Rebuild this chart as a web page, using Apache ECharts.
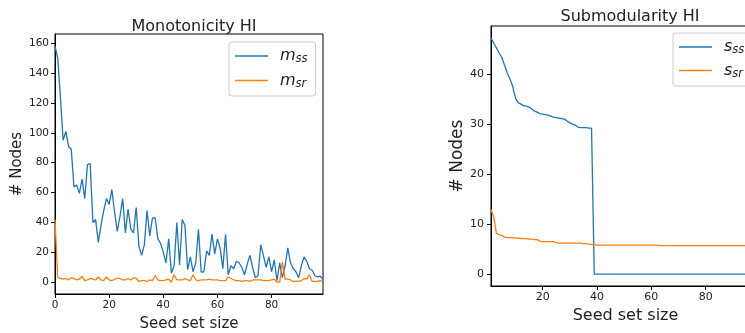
<!DOCTYPE html>
<html>
<head>
<meta charset="utf-8">
<script src="https://cdn.jsdelivr.net/npm/echarts@6/dist/echarts.min.js"></script>
<style>
  html, body { margin: 0; padding: 0; background: #fff; }
  #chart { width: 745px; height: 333px; }
</style>
</head>
<body>
<div id="chart"></div>
<script>
// Monotonicity HI, x = 0..99
const mSS = [158, 150, 124, 95, 101, 91, 89, 64, 65, 59.5,
  69, 56, 78.7, 79.5, 40, 42, 26.7, 38, 48, 56,
  52, 62, 47, 34, 44, 56, 33, 49, 35.5, 33,
  50, 24, 18, 25, 48, 31, 43, 43, 29, 26,
  20, 13, 29, 6, 11, 40, 11.5, 42, 38, 8.5,
  17, 7, 13, 35.5, 6.7, 7, 21, 18, 32, 19,
  29, 23, 9, 32, 5, 11, 9, 14, 13, 10,
  5, 12, 18, 10, 3, 4.5, 25, 18, 10, 17,
  7, 15, 1, 13, 3, 11, 23, 13, 9, 7,
  3, 11, 17, 14, 9, 8, 4.5, 3.5, 4, 2];
const mSR = [42, 3.5, 2.5, 2, 2.5, 1.5, 3, 2.5, 1.5, 2,
  4, 1, 1.5, 2.5, 2, 1.5, 3.5, 1.5, 1, 3.5,
  1.5, 1, 2, 2.5, 2.5, 1.5, 1.5, 2.5, 1.5, 3,
  2.5, 0.5, 1, 1, 0.5, 1.5, 1, 4.5, 1.5, 1,
  1, 1.5, 2, 0, 5, 1.5, 1.5, 1.5, 2.5, 1.5,
  1, 5, 1.5, 1, 1.5, 1.5, 1.5, 2, 1.5, 1.5,
  1.5, 1, 1, 1, 3.5, 2.5, 1.5, 1, 1, 0.5,
  1, 1, 0.5, 1.5, 1.5, 1.5, 1.5, 1, 1, 1,
  1.5, 2, 0, 0, 13.5, 2, 2, 1.5, 0.5, 0.5,
  0.5, 1, 2.5, 2, 5, 0.5, 0.5, 0.5, 1, 0.5];

// Submodularity HI, x = 1..100
const sSS = [47.2, 46.2, 45.2, 44.2, 43.3, 41.7, 40.2, 39.0, 37.5, 35.2,
  34.3, 34.0, 33.7, 33.6, 33.4, 33.0, 32.6, 32.4, 32.1, 32.0,
  31.9, 31.8, 31.6, 31.4, 31.3, 31.2, 31.1, 31.0, 30.6, 30.3,
  30.0, 29.8, 29.4, 29.3, 29.3, 29.3, 29.2, 29.2, 0, 0,
  0, 0, 0, 0, 0, 0, 0, 0, 0, 0,
  0, 0, 0, 0, 0, 0, 0, 0, 0, 0,
  0, 0, 0, 0, 0, 0, 0, 0, 0, 0,
  0, 0, 0, 0, 0, 0, 0, 0, 0, 0,
  0, 0, 0, 0, 0, 0, 0, 0, 0, 0,
  0, 0, 0, 0, 0, 0, 0, 0, 0, 0];
const sSR = [12.9, 11.5, 8.1, 7.9, 7.7, 7.4, 7.3, 7.3, 7.3, 7.2,
  7.2, 7.1, 7.1, 7.1, 7.0, 7.0, 6.9, 6.9, 6.6, 6.5,
  6.5, 6.5, 6.5, 6.5, 6.3, 6.2, 6.2, 6.2, 6.2, 6.2,
  6.2, 6.2, 6.2, 6.2, 6.1, 6.1, 6.0, 5.9, 5.9, 5.8,
  5.8, 5.8, 5.8, 5.8, 5.8, 5.8, 5.8, 5.8, 5.8, 5.8,
  5.8, 5.8, 5.8, 5.8, 5.8, 5.8, 5.8, 5.8, 5.8, 5.8,
  5.8, 5.8, 5.7, 5.7, 5.7, 5.7, 5.7, 5.7, 5.7, 5.7,
  5.7, 5.7, 5.7, 5.7, 5.7, 5.7, 5.7, 5.7, 5.7, 5.7,
  5.7, 5.7, 5.7, 5.7, 5.7, 5.7, 5.7, 5.7, 5.7, 5.7,
  5.7, 5.7, 5.7, 5.7, 5.7, 5.7, 5.7, 5.7, 5.7, 5.7];

const leftTicksX = [0, 20, 40, 60, 80];
const leftTicksY = [0, 20, 40, 60, 80, 100, 120, 140, 160];
const rightTicksX = [20, 40, 60, 80, 100];
const rightTicksY = [0, 10, 20, 30, 40];

const FONT = "DejaVu Sans";
const BLUE = "#1f77b4";
const ORANGE = "#ff7f0e";

const chart = echarts.init(document.getElementById("chart"), null, { renderer: "canvas" });

function axisCommon(ticks, fontSize, margin) {
  return {
    type: "value",
    splitLine: { show: false },
    axisLine: { show: true, onZero: false, lineStyle: { color: "#000", width: 1 } },
    axisTick: { show: true, length: 4, lineStyle: { color: "#000" }, customValues: ticks },
    axisLabel: { customValues: ticks, color: "#222", fontFamily: FONT, fontSize: fontSize, margin: margin },
    nameTextStyle: { color: "#222", fontFamily: FONT },
  };
}

const legendRich = {
  g: { width: 7 },
  i: { fontStyle: "italic", fontFamily: FONT, fontSize: 16, color: "#222" },
  s: { fontStyle: "italic", fontFamily: FONT, fontSize: 11.5, color: "#222", padding: [7, 0, 0, 0] },
};
const legendNames = {
  mss: "{g|}{i|m}{s|ss}", msr: "{g|}{i|m}{s|sr}",
  sss: "{g|}{i|s}{s|ss}", ssr: "{g|}{i|s}{s|sr}",
};

const chartOptions = {
  animation: false,
  backgroundColor: "#fff",
  title: [
    { text: "Monotonicity HI", left: 189, top: 14, textAlign: "center",
      textStyle: { fontFamily: FONT, fontSize: 16, fontWeight: "normal", color: "#222" } },
    { text: "Submodularity HI", left: 625, top: 4, textAlign: "center",
      textStyle: { fontFamily: FONT, fontSize: 16, fontWeight: "normal", color: "#222" } },
  ],
  legend: [
    {
      data: ["mss", "msr"], orient: "vertical", left: 229, top: 42,
      icon: "rect", itemWidth: 33, itemHeight: 1.5, itemGap: 7,
      padding: [6, 8, 6, 6],
      borderColor: "#ccc", borderWidth: 1, borderRadius: 3,
      formatter: (n) => legendNames[n],
      textStyle: { rich: legendRich },
    },
    {
      data: ["sss", "ssr"], orient: "vertical", left: 673, top: 33,
      icon: "rect", itemWidth: 33, itemHeight: 1.5, itemGap: 6,
      padding: [6, 30, 6, 6],
      borderColor: "#ccc", borderWidth: 1, borderRadius: 3,
      formatter: (n) => legendNames[n],
      textStyle: { rich: legendRich },
    },
  ],
  grid: [
    { left: 55, top: 34, width: 268, height: 260, outerBoundsMode: "none", containLabel: false,
      show: true, borderColor: "#000", borderWidth: 1, backgroundColor: "transparent" },
    { left: 491, top: 26, width: 269, height: 260, outerBoundsMode: "none", containLabel: false,
      show: true, borderColor: "#000", borderWidth: 1, backgroundColor: "transparent" },
  ],
  xAxis: [
    Object.assign(axisCommon(leftTicksX, 10.5, 6), {
      gridIndex: 0, min: 0, max: 99,
      name: "Seed set size", nameLocation: "middle", nameGap: 23,
      nameTextStyle: { color: "#222", fontFamily: FONT, fontSize: 15 },
    }),
    Object.assign(axisCommon(rightTicksX, 11, 6), {
      gridIndex: 1, min: 1, max: 100,
      name: "Seed set size", nameLocation: "middle", nameGap: 19,
      nameTextStyle: { color: "#222", fontFamily: FONT, fontSize: 16 },
    }),
  ],
  yAxis: [
    Object.assign(axisCommon(leftTicksY, 10.5, 6), {
      gridIndex: 0, min: -7.9, max: 166.2,
      name: "# Nodes", nameLocation: "middle", nameGap: 30, nameRotate: 90,
      nameTextStyle: { color: "#222", fontFamily: FONT, fontSize: 15 },
    }),
    Object.assign(axisCommon(rightTicksY, 11, 7), {
      gridIndex: 1, min: -2.36, max: 49.6,
      name: "# Nodes", nameLocation: "middle", nameGap: 24, nameRotate: 90,
      nameTextStyle: { color: "#222", fontFamily: FONT, fontSize: 17 },
    }),
  ],
  series: [
    { name: "mss", type: "line", xAxisIndex: 0, yAxisIndex: 0, symbol: "none",
      lineStyle: { color: BLUE, width: 1.3 }, itemStyle: { color: BLUE },
      data: mSS.map((v, i) => [i, v]) },
    { name: "msr", type: "line", xAxisIndex: 0, yAxisIndex: 0, symbol: "none",
      lineStyle: { color: ORANGE, width: 1.3 }, itemStyle: { color: ORANGE },
      data: mSR.map((v, i) => [i, v]) },
    { name: "sss", type: "line", xAxisIndex: 1, yAxisIndex: 1, symbol: "none",
      lineStyle: { color: BLUE, width: 1.3 }, itemStyle: { color: BLUE },
      data: sSS.map((v, i) => [i + 1, v]) },
    { name: "ssr", type: "line", xAxisIndex: 1, yAxisIndex: 1, symbol: "none",
      lineStyle: { color: ORANGE, width: 1.3 }, itemStyle: { color: ORANGE },
      data: sSR.map((v, i) => [i + 1, v]) },
  ],
};

chart.setOption(chartOptions);
</script>
</body>
</html>
